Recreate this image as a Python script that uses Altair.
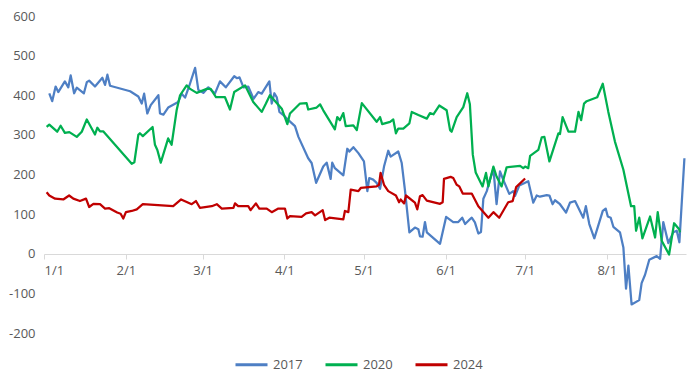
import altair as alt
import pandas as pd

# days since Jan 1 (x) and values (y)
day_2017 = [2.0, 3.1, 4.4, 5.4, 7.9, 9.2, 10.1, 11.4, 12.4, 15.1, 16.2, 17.1, 19.3, 22.1, 23.1, 24.0, 25.0,
            32.6, 35.7, 37.0, 37.9, 39.1, 40.4, 43.3, 43.9, 45.2, 47.0, 50.8, 52.1, 53.4, 55.0, 57.2, 58.4,
            60.3, 62.2, 64.7, 66.6, 68.8, 72.0, 73.0, 74.0, 75.5, 77.3, 79.3, 81.1, 82.4, 85.3, 86.2, 87.2,
            88.1, 89.1, 90.6, 91.9, 95.0, 96.3, 100.0, 101.3, 103.0, 105.7, 107.0, 108.5, 109.1, 110.1, 113.3,
            114.8, 115.6, 117.1, 119.0, 121.1, 122.4, 123.1, 124.6, 125.9, 127.2, 128.7, 130.3, 131.2, 134.1,
            135.4, 136.6, 138.3, 140.4, 141.7, 142.3, 143.3, 144.2, 144.9, 149.9, 152.2, 154.9, 156.8, 158.3,
            159.4, 161.2, 161.9, 163.1, 164.4, 165.4, 166.3, 167.6, 168.8, 170.1, 171.3, 172.6, 173.8, 176.1,
            177.6, 178.3, 179.9, 183.3, 185.2, 186.5, 187.7, 190.3, 191.3, 192.5, 193.4, 195.3, 197.6, 199.1,
            201.0, 204.1, 205.1, 206.4, 208.3, 211.5, 212.6, 213.4, 214.5, 215.5, 218.0, 219.3, 220.3, 221.2,
            222.4, 225.3, 226.2, 227.5, 229.1, 231.9, 233.2, 234.4, 236.3, 238.2, 239.5, 240.5, 242.4]
val_2017 = [405, 385, 422, 408, 435, 420, 450, 405, 419, 405, 433, 437, 422, 444, 426, 452, 424,
            410, 397, 379, 404, 354, 375, 400, 354, 351, 369, 383, 404, 394, 424, 469, 414,
            406, 420, 404, 435, 420, 448, 443, 445, 420, 422, 391, 408, 404, 435, 379, 405,
            395, 358, 350, 341, 322, 295, 241, 229, 179, 220, 230, 189, 230, 216, 198,
            265, 258, 269, 254, 233, 158, 191, 187, 179, 164, 220, 260, 245, 258,
            229, 162, 54, 66, 62, 44, 43, 80, 54, 25, 93, 80, 80, 91,
            75, 87, 91, 79, 51, 55, 139, 158, 187, 214, 125, 208, 187, 151,
            158, 146, 172, 183, 129, 147, 144, 148, 147, 125, 135, 125, 104, 129,
            133, 91, 120, 75, 39, 108, 114, 94, 91, 68, 54, 16, -88, -30,
            -128, -117, -74, -53, -15, -6, -13, 80, 27, 54, 58, 29, 241]

day_2020 = [1.0, 2.0, 5.0, 6.3, 7.9, 9.6, 12.4, 14.3, 16.2, 19.3, 20.2, 21.2, 22.4, 33.2, 34.2, 35.7, 36.3,
            37.4, 41.1, 42.0, 42.9, 44.2, 47.0, 48.3, 50.2, 51.5, 54.0, 55.3, 57.8, 61.6, 63.1, 65.1, 68.5,
            70.4, 72.0, 76.1, 79.2, 82.4, 84.0, 85.5, 90.0, 92.1, 93.1, 96.9, 99.4, 100.0, 103.2, 104.5, 105.7,
            110.1, 111.0, 112.0, 113.3, 114.2, 117.1, 118.4, 120.3, 125.9, 127.2, 128.0, 131.0, 132.2, 133.2,
            134.1, 136.0, 138.3, 139.2, 141.7, 144.9, 146.1, 147.4, 149.6, 152.4, 153.7, 154.3, 156.2, 158.7,
            160.2, 161.2, 162.3, 163.4, 166.0, 167.3, 168.2, 170.1, 171.3, 173.2, 175.1, 180.2, 181.4, 182.1,
            183.3, 184.0, 187.1, 188.4, 189.4, 191.3, 194.7, 195.3, 196.3, 198.5, 201.0, 202.3, 203.3, 204.4,
            205.4, 209.4, 211.5, 213.6, 216.1, 219.3, 222.2, 223.4, 224.1, 225.3, 226.5, 229.4, 231.3, 232.3,
            233.8, 236.6, 238.5, 240.4, 240.7]
val_2020 = [320, 326, 308, 323, 305, 307, 295, 308, 339, 301, 318, 309, 309, 227, 231, 300, 304,
            297, 320, 275, 262, 230, 291, 275, 362, 400, 425, 416, 406, 416, 416, 395, 395,
            364, 408, 425, 383, 358, 379, 400, 366, 327, 354, 379, 380, 364, 369, 377, 362,
            314, 345, 337, 355, 322, 324, 312, 380, 333, 345, 327, 333, 339, 304,
            316, 316, 329, 358, 350, 341, 355, 352, 374, 362, 312, 308, 345, 370,
            405, 377, 250, 205, 170, 204, 170, 220, 195, 170, 218, 222, 216, 220,
            216, 247, 262, 294, 295, 233, 304, 302, 345, 308, 308, 358, 337, 379,
            385, 395, 429, 358, 283, 212, 120, 120, 58, 91, 39, 94, 41, 105,
            33, -2, 77, 62, 54]

day_2024 = [1.0, 2.0, 4.2, 7.3, 9.5, 11.1, 13.6, 15.9, 17.1, 18.7, 21.2, 23.1, 24.7, 27.7, 29.0, 30.0, 31.0,
            33.2, 35.1, 37.4, 48.9, 51.9, 55.9, 57.5, 59.0, 63.5, 65.4, 67.3, 71.7, 72.3, 73.5, 77.3, 78.2,
            80.2, 81.5, 84.3, 86.2, 88.7, 91.2, 92.1, 93.1, 97.5, 99.2, 101.3, 102.6, 105.5, 106.4, 108.0,
            113.3, 113.9, 115.2, 116.1, 119.0, 119.9, 125.9, 126.8, 127.4, 128.7, 130.3, 133.2, 134.4, 135.0,
            136.3, 137.0, 140.4, 141.3, 142.3, 143.3, 144.9, 149.9, 150.9, 151.4, 153.9, 154.9, 156.2, 157.2,
            158.5, 161.9, 164.4, 168.2, 170.1, 172.3, 175.7, 177.4, 178.7, 182.1]
val_2024 = [155, 147, 139, 137, 147, 139, 133, 139, 118, 126, 125, 114, 115, 104, 101, 89, 105,
            108, 112, 125, 120, 137, 125, 133, 116, 120, 125, 114, 116, 127, 120, 120, 110,
            127, 114, 114, 105, 114, 114, 89, 95, 93, 102, 105, 97, 110, 85, 91,
            87, 108, 105, 162, 158, 166, 170, 174, 204, 174, 158, 147, 130, 137,
            127, 147, 129, 112, 145, 148, 134, 126, 130, 189, 194, 191, 174, 170,
            152, 152, 120, 91, 105, 91, 130, 133, 168, 190]

series_names = ["2017", "2020", "2024"]
series_colors = ["#4E7FC4", "#00B050", "#C00000"]
y_ticks = [-200, -100, 0, 100, 200, 300, 400, 500, 600]
month_ticks = [alt.DateTime(year=2020, month=m, date=1) for m in range(1, 9)]

base = pd.Timestamp("2020-01-01")
frames = []
for name, days, vals in zip(series_names, [day_2017, day_2020, day_2024], [val_2017, val_2020, val_2024]):
    frames.append(pd.DataFrame({
        "date": [base + pd.Timedelta(days=d) for d in days],
        "value": vals,
        "series": name,
    }))
df = pd.concat(frames, ignore_index=True)

FONT = "Open Sans"
GREY = "#595959"

chart = alt.Chart(df).mark_line(strokeWidth=2.25, strokeJoin="round").encode(
    x=alt.X("date:T",
            scale=alt.Scale(domain=[alt.DateTime(year=2020, month=1, date=1),
                                    alt.DateTime(year=2020, month=8, date=31)], nice=False),
            axis=alt.Axis(title=None, values=month_ticks, format="%-m/%-d", offset=-79,
                          grid=False, domainColor="#D9D9D9", tickColor="#D9D9D9",
                          tickSize=5, labelPadding=5, labelFont=FONT, labelFontSize=13,
                          labelColor=GREY)),
    y=alt.Y("value:Q",
            scale=alt.Scale(domain=[-200, 600], nice=False, zero=False),
            axis=alt.Axis(title=None, values=y_ticks, grid=False, domain=False, ticks=False,
                          tickSize=0, labelPadding=9, labelFont=FONT, labelFontSize=13,
                          labelColor=GREY,
                          labelExpr="datum.value < 0 ? '-' + abs(datum.value) : '' + datum.value")),
    color=alt.Color("series:N",
                    scale=alt.Scale(domain=series_names, range=series_colors),
                    legend=alt.Legend(title=None, orient="none", direction="horizontal",
                                      legendX=190, legendY=331, symbolType="stroke",
                                      symbolSize=1024, symbolStrokeWidth=3,
                                      labelFont=FONT, labelFontSize=13, labelColor=GREY,
                                      labelOffset=4, columnPadding=16, padding=0)),
).properties(
    width=642,
    height=317,
    autosize=alt.AutoSizeParams(type="none"),
    padding={"left": 36, "top": 8, "right": 1, "bottom": 40},
).configure_view(stroke=None)

chart.save("out.html", embed_options={"renderer": "svg", "actions": False})
